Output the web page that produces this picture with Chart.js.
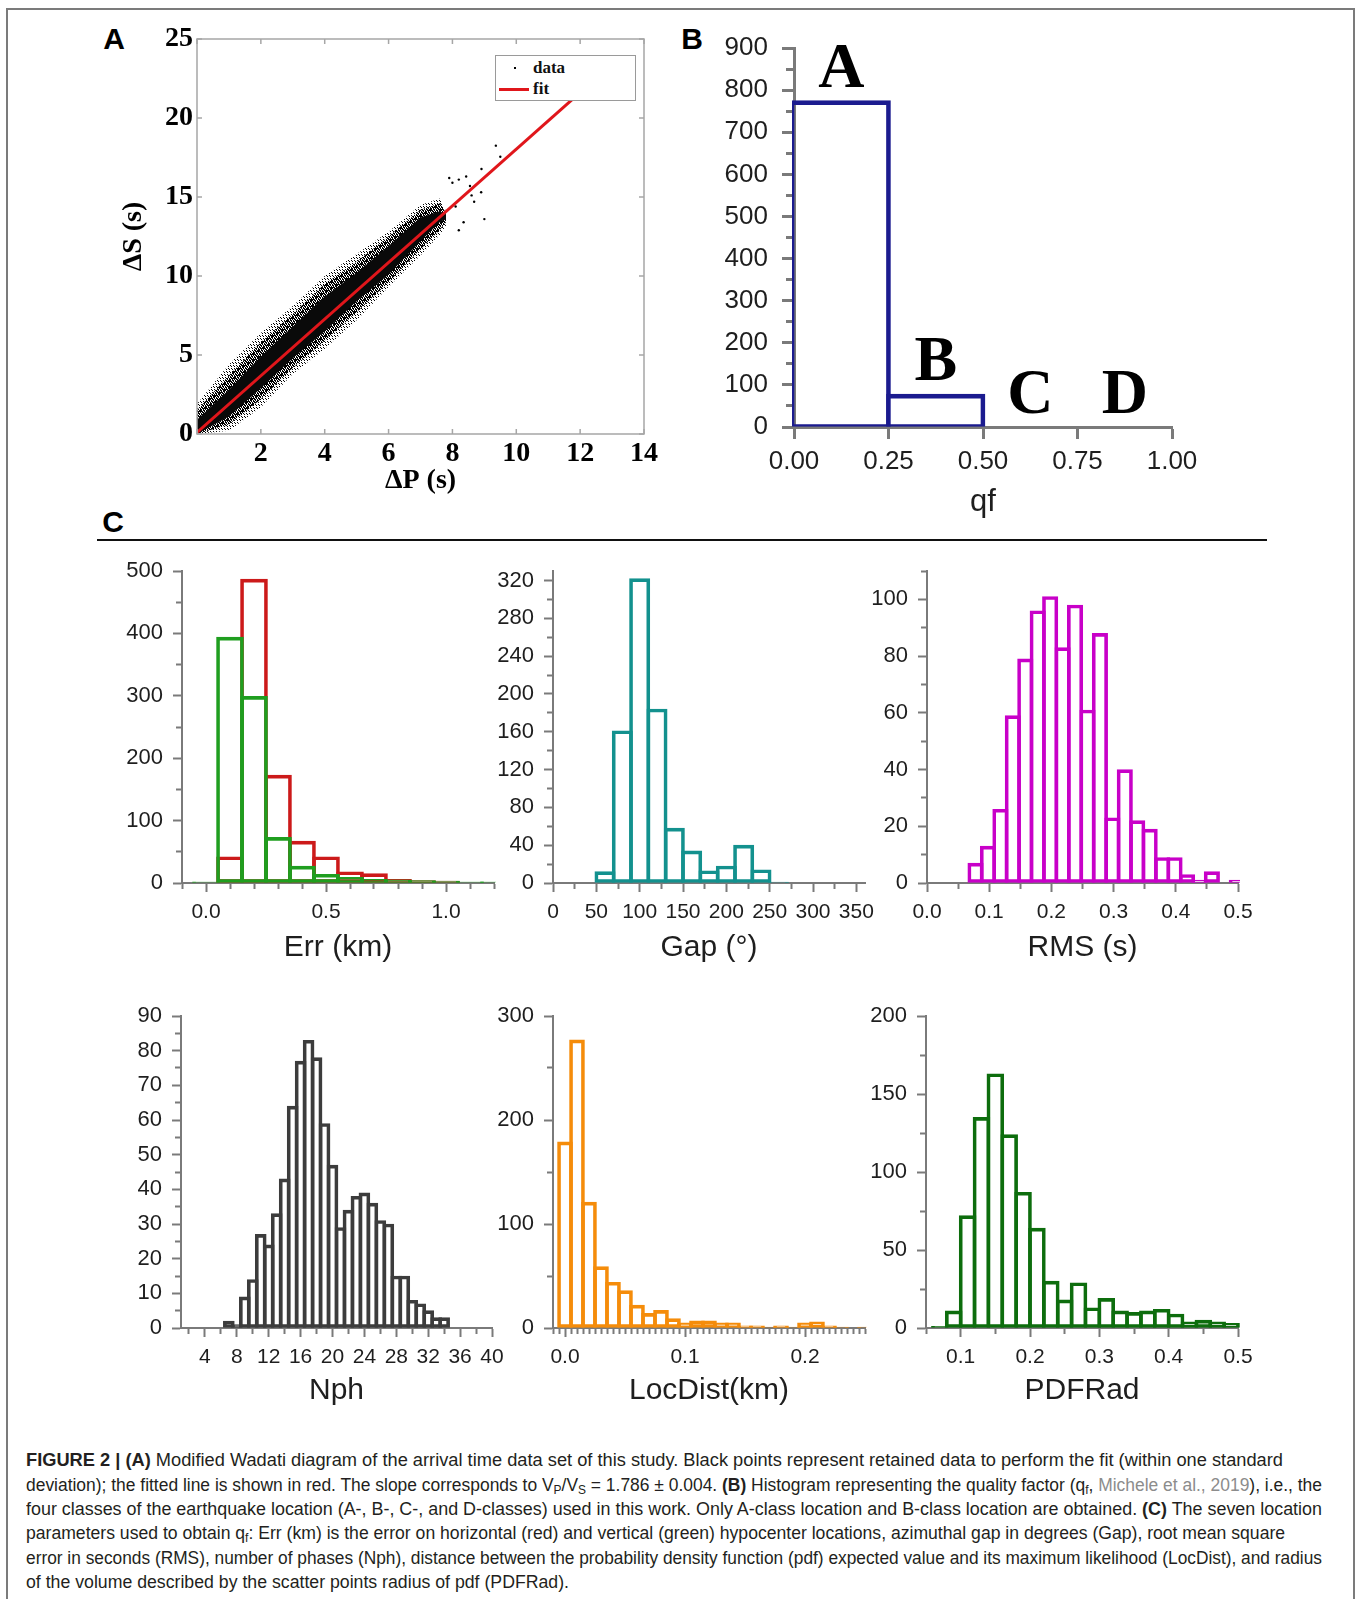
<!DOCTYPE html>
<html>
<head>
<meta charset="utf-8">
<script src="https://cdn.jsdelivr.net/npm/chart.js@4.4.1/dist/chart.umd.min.js"></script>
<style>
html, body { margin: 0; padding: 0; background: #fff; }
body { width: 1355px; height: 1599px; position: relative; overflow: hidden; font-family: "Liberation Sans", Arial, sans-serif; }
canvas { position: absolute; }
.frame { position: absolute; left: 6px; top: 8px; width: 1345px; height: 1640px; border: 2px solid #7b7b7b; }
.tag { position: absolute; font: bold 30px "Liberation Sans", Arial, sans-serif; color: #000; transform: translate(-50%, -50%); }
.rule { position: absolute; left: 97px; top: 539px; width: 1170px; height: 2px; background: #111; }
.legend { position: absolute; left: 495px; top: 55px; width: 139px; height: 44px; border: 1px solid #9a9a9a; background: #fff; font: bold 17px "Liberation Serif", "Times New Roman", serif; color: #111; }
.legend .dot { position: absolute; left: 18px; top: 11px; width: 2px; height: 2px; background: #000; }
.legend .line { position: absolute; left: 3px; top: 32px; width: 30px; height: 3px; background: #e0161b; }
.legend .txt { position: absolute; left: 37px; }
.cap { position: absolute; left: 26px; white-space: nowrap; font: 17.5px/20px "Liberation Sans Narrow", "Arial Narrow", "Liberation Sans", sans-serif; color: #231f20; transform-origin: 0 0; }
.cap sub { font-size: 12px; line-height: 0; vertical-align: -3px; }
.cap .ref { color: #8c8c8c; }
</style>
</head>
<body>
<div class="frame"></div>
<div class="tag" style="left:114px;top:39px">A</div>
<div class="tag" style="left:692px;top:39px">B</div>
<div class="tag" style="left:113px;top:522px">C</div>
<div class="rule"></div>

<canvas id="chartA"></canvas>
<canvas id="chartB"></canvas>
<canvas id="chartErr"></canvas>
<canvas id="chartGap"></canvas>
<canvas id="chartRms"></canvas>
<canvas id="chartNph"></canvas>
<canvas id="chartLoc"></canvas>
<canvas id="chartPdf"></canvas>

<div class="legend">
  <span class="dot"></span><span class="txt" style="top:2px">data</span>
  <span class="line"></span><span class="txt" style="top:23px">fit</span>
</div>

<div class="cap" style="top:1450px"><b>FIGURE 2 | (A)</b> Modified Wadati diagram of the arrival time data set of this study. Black points represent retained data to perform the fit (within one standard</div>
<div class="cap" style="top:1475px">deviation); the fitted line is shown in red. The slope corresponds to V<sub>P</sub>/V<sub>S</sub> = 1.786 ± 0.004. <b>(B)</b> Histogram representing the quality factor (q<sub>f</sub>, <span class="ref">Michele et al., 2019</span>), i.e., the</div>
<div class="cap" style="top:1499px">four classes of the earthquake location (A-, B-, C-, and D-classes) used in this work. Only A-class location and B-class location are obtained. <b>(C)</b> The seven location</div>
<div class="cap" style="top:1523px">parameters used to obtain q<sub>f</sub>: Err (km) is the error on horizontal (red) and vertical (green) hypocenter locations, azimuthal gap in degrees (Gap), root mean square</div>
<div class="cap" style="top:1548px">error in seconds (RMS), number of phases (Nph), distance between the probability density function (pdf) expected value and its maximum likelihood (LocDist), and radius</div>
<div class="cap" style="top:1572px">of the volume described by the scatter points radius of pdf (PDFRad).</div>

<script>
// (A) wadati diagram: envelopes of the point cloud
var cloudX = [0, 1, 2, 3, 4, 5, 6, 7, 7.6, 7.8];
var cloudOuterTop = [1.9, 4.4, 6.4, 8.1, 10.0, 11.4, 12.8, 14.5, 14.9, 14.1];
var cloudOuterBottom = [0, 0.2, 1.7, 3.8, 5.4, 7.2, 9.3, 11.3, 12.6, 13.2];
var cloudMidTop = [1.5, 3.7, 5.8, 7.6, 9.5, 10.9, 12.5, 14.2, 14.6, 14.0];
var cloudMidBottom = [0, 0.6, 2.2, 4.2, 5.9, 7.7, 9.6, 11.7, 12.9, 13.4];
var cloudCoreTop = [0.9, 2.8, 4.9, 6.8, 8.7, 10.2, 11.9, 13.7, 14.1, 13.9];
var cloudCoreBottom = [0, 1.1, 2.9, 4.8, 6.5, 8.4, 10.1, 12.2, 13.4, 13.6];
// stray points right of the cloud
var outlierX = [9.36, 9.5, 8.91, 9.0, 8.2, 8.43, 8.68, 8.2, 8.0, 8.9, 8.6, 8.35, 7.9, 8.1, 8.55];
var outlierY = [18.25, 17.55, 16.77, 13.6, 12.9, 16.3, 14.7, 16.1, 15.9, 15.3, 15.1, 13.4, 16.2, 14.4, 15.7];
var fitX = [0, 11.74];
var fitY = [0.1, 21.14];
var wadatiXTicks = [0, 2, 4, 6, 8, 10, 12, 14];
var wadatiYTicks = [0, 5, 10, 15, 20, 25];

// (B) quality factor
var qfClasses = ['A', 'B', 'C', 'D'];
var qfBins = [0.125, 0.375, 0.625, 0.875];
var qfCounts = [775, 78, 0, 0];
var qfXTicks = [0, 0.25, 0.5, 0.75, 1];
var qfYTicks = [0, 100, 200, 300, 400, 500, 600, 700, 800, 900];

// (C) location parameters
var errBins = [0, 0.1, 0.2, 0.3, 0.4, 0.5, 0.6, 0.7, 0.8, 0.9, 1.0, 1.1, 1.2];
var errHorizontal = [0, 42, 487, 173, 67, 42, 18, 15, 6, 4, 3, 0, 0];
var errVertical = [2, 394, 299, 73, 27, 14, 9, 6, 5, 4, 3, 2, 2];
var errXTicks = [0, 0.5, 1.0];
var errYTicks = [0, 100, 200, 300, 400, 500];

var gapBins = [60, 80, 100, 120, 140, 160, 180, 200, 220, 240, 260];
var gapCounts = [12, 161, 322, 184, 58, 34, 13, 18, 40, 14, 1];
var gapXTicks = [0, 50, 100, 150, 200, 250, 300, 350];
var gapYTicks = [0, 40, 80, 120, 160, 200, 240, 280, 320];

var rmsBins = [0.078, 0.098, 0.118, 0.138, 0.158, 0.178, 0.198, 0.218, 0.238, 0.258, 0.278,
               0.298, 0.318, 0.338, 0.358, 0.378, 0.398, 0.418, 0.438, 0.458, 0.478, 0.498];
var rmsCounts = [7, 13, 26, 59, 79, 96, 101, 83, 98, 61, 88, 23, 40, 22, 19, 9, 9, 3, 1, 4, 0, 1];
var rmsXTicks = [0, 0.1, 0.2, 0.3, 0.4, 0.5];
var rmsYTicks = [0, 20, 40, 60, 80, 100];

var nphBins = [7, 8, 9, 10, 11, 12, 13, 14, 15, 16, 17, 18, 19, 20, 21, 22, 23, 24, 25, 26, 27, 28, 29, 30, 31, 32, 33, 34];
var nphCounts = [2, 1, 9, 14, 27, 24, 33, 43, 64, 77, 83, 78, 59, 47, 29, 34, 38, 39, 36, 31, 30, 15, 15, 8, 7, 5, 3, 3];
var nphXTicks = [4, 8, 12, 16, 20, 24, 28, 32, 36, 40];
var nphYTicks = [0, 10, 20, 30, 40, 50, 60, 70, 80, 90];

var locBins = [0, 0.01, 0.02, 0.03, 0.04, 0.05, 0.06, 0.07, 0.08, 0.09, 0.10, 0.11, 0.12,
               0.13, 0.14, 0.15, 0.16, 0.17, 0.18, 0.19, 0.20, 0.21, 0.22, 0.23, 0.24, 0.25];
var locCounts = [179, 277, 121, 59, 44, 36, 22, 14, 17, 9, 5, 7, 7, 5, 5, 2, 2, 1, 2, 1, 5, 6, 2, 1, 0, 1];
var locXTicks = [0, 0.1, 0.2];
var locYTicks = [0, 100, 200, 300];

var pdfBins = [0.07, 0.09, 0.11, 0.13, 0.15, 0.17, 0.19, 0.21, 0.23, 0.25, 0.27,
               0.29, 0.31, 0.33, 0.35, 0.37, 0.39, 0.41, 0.43, 0.45, 0.47, 0.49];
var pdfCounts = [1, 11, 72, 135, 163, 124, 87, 64, 30, 18, 29, 13, 19, 11, 10, 11, 12, 9, 4, 5, 4, 3];
var pdfXTicks = [0.1, 0.2, 0.3, 0.4, 0.5];
var pdfYTicks = [0, 50, 100, 150, 200];

var GRAY = '#7a7a7a';
var INK = '#1e1e1e';
var SERIF = '"Liberation Serif", "Times New Roman", serif';

Chart.defaults.font.family = '"Liberation Sans", Arial, sans-serif';
Chart.defaults.color = INK;
Chart.defaults.animation = false;
Chart.defaults.events = [];
Chart.defaults.plugins.legend.display = false;
Chart.defaults.plugins.tooltip.enabled = false;

function pairs(xs, ys) {
    return xs.map(function (x, i) { return { x: x, y: ys[i] }; });
}

function isMajor(v, majors) {
    return majors.some(function (m) { return Math.abs(m - v) < 1e-6; });
}

function tickList(min, max, step) {
    var out = [];
    for (var k = Math.ceil(min / step - 1e-9); k * step <= max + step * 1e-6; k++) {
        out.push({ value: parseFloat((k * step).toFixed(6)) });
    }
    return out;
}

// canvas sized so the plot area lands on box = [left, top, right, bottom]
function place(id, box, pad) {
    var c = document.getElementById(id);
    c.width = Math.round(box[2] - box[0] + pad[0] + pad[2]);
    c.height = Math.round(box[3] - box[1] + pad[1] + pad[3]);
    c.style.left = (box[0] - pad[0]) + 'px';
    c.style.top = (box[1] - pad[1]) + 'px';
    return c;
}

function axis(o) {
    var bottom = o.side === 'bottom';
    var minor = Math.round(o.tick * 0.55);
    return {
        type: 'linear', position: o.side, min: o.min, max: o.max, offset: false,
        afterBuildTicks: function (a) { a.ticks = tickList(o.min, o.max, o.step); },
        afterFit: function (a) { if (bottom) a.height = o.size; else a.width = o.size; },
        ticks: {
            autoSkip: false, maxRotation: 0, padding: o.pad, color: INK, font: { size: o.font },
            callback: function (v) { return isMajor(v, o.majors) ? v.toFixed(o.digits) : ''; }
        },
        grid: {
            offset: false, drawOnChartArea: false, drawTicks: true,
            tickLength: o.tick, tickWidth: o.line, tickColor: GRAY,
            tickBorderDash: function (c) {
                if (!c.tick || isMajor(c.tick.value, o.majors)) return [];
                return bottom ? [minor, 200] : [0, o.tick - minor - 1, 200];
            }
        },
        border: { display: true, color: GRAY, width: o.line },
        title: { display: !!o.title, text: o.title || '', color: INK, font: { size: o.titleSize || 30 }, padding: 0 }
    };
}

function bars(bins, counts, color, lw, order) {
    return {
        data: pairs(bins, counts),
        backgroundColor: 'rgba(0,0,0,0)',
        borderColor: color,
        borderWidth: lw,
        borderSkipped: false,
        grouped: false,
        order: order || 0,
        clip: 2
    };
}

// make neighbouring bars overlap by one line width so shared edges stay single
function fitBins(chart, step, lw) {
    var xs = chart.scales.x;
    var w = Math.abs(xs.getPixelForValue(step) - xs.getPixelForValue(0)) + lw;
    chart.data.datasets.forEach(function (ds) { ds.barThickness = w; });
    chart.update('none');
}

function histogram(id, box, pad, xAxis, yAxis, datasets, step, lw, plugins) {
    var chart = new Chart(place(id, box, pad), {
        type: 'bar',
        data: { datasets: datasets },
        options: {
            responsive: false,
            layout: { padding: { left: 0, top: pad[1], right: pad[2], bottom: 0 } },
            scales: { x: xAxis, y: yAxis }
        },
        plugins: plugins || []
    });
    fitBins(chart, step, lw);
    return chart;
}

// dot texture for the looser parts of the cloud
function speckle(size, keep) {
    var t = document.createElement('canvas');
    t.width = size; t.height = size;
    var g = t.getContext('2d');
    g.fillStyle = '#000';
    for (var i = 0; i < size; i++) {
        for (var j = 0; j < size; j++) {
            if ((i * 3 + j * 5) % size < keep) g.fillRect(i, j, 1, 1);
        }
    }
    return g.createPattern(t, 'repeat');
}

// ---------- A ----------
var frameA = {
    id: 'frameA',
    afterDraw: function (chart) {
        var a = chart.chartArea, g = chart.ctx, xs = chart.scales.x, ys = chart.scales.y;
        g.save();
        g.strokeStyle = '#a6a6a6';
        g.lineWidth = 1.5;
        g.strokeRect(a.left, a.top, a.right - a.left, a.bottom - a.top);
        g.beginPath();
        xs.ticks.forEach(function (t) {
            var px = xs.getPixelForValue(t.value);
            g.moveTo(px, a.bottom); g.lineTo(px, a.bottom - 5);
            g.moveTo(px, a.top); g.lineTo(px, a.top + 5);
        });
        ys.ticks.forEach(function (t) {
            var py = ys.getPixelForValue(t.value);
            g.moveTo(a.left, py); g.lineTo(a.left + 5, py);
            g.moveTo(a.right, py); g.lineTo(a.right - 5, py);
        });
        g.stroke();
        g.restore();
    }
};

var serifBold = { family: SERIF, size: 28, weight: 'bold' };
var band = { borderWidth: 0, borderColor: 'rgba(0,0,0,0)', pointRadius: 0 };

new Chart(place('chartA', [197, 39, 643.5, 434], [80, 24, 22, 64]), {
    type: 'line',
    data: {
        datasets: [
            { data: pairs(fitX, fitY), borderColor: '#e0161b', borderWidth: 3, pointRadius: 0, fill: false },
            { data: pairs(outlierX, outlierY), showLine: false, pointRadius: 1.2, pointBackgroundColor: '#000', pointBorderWidth: 0 },
            Object.assign({ data: pairs(cloudX, cloudCoreTop), fill: '+1', backgroundColor: '#0a0a0a' }, band),
            Object.assign({ data: pairs(cloudX, cloudCoreBottom), fill: false }, band),
            Object.assign({ data: pairs(cloudX, cloudMidTop), fill: '+1', backgroundColor: speckle(7, 4) }, band),
            Object.assign({ data: pairs(cloudX, cloudMidBottom), fill: false }, band),
            Object.assign({ data: pairs(cloudX, cloudOuterTop), fill: '+1', backgroundColor: speckle(9, 2) }, band),
            Object.assign({ data: pairs(cloudX, cloudOuterBottom), fill: false }, band)
        ]
    },
    options: {
        responsive: false,
        layout: { padding: { left: 0, top: 24, right: 22, bottom: 0 } },
        scales: {
            x: {
                type: 'linear', min: 0, max: 14,
                afterBuildTicks: function (a) { a.ticks = wadatiXTicks.map(function (v) { return { value: v }; }); },
                afterFit: function (a) { a.height = 64; },
                grid: { display: false, drawTicks: false },
                border: { display: false },
                ticks: { autoSkip: false, maxRotation: 0, padding: 3, color: '#000', font: serifBold,
                         callback: function (v) { return v === 0 ? '' : v; } },
                title: { display: true, text: 'ΔP (s)', color: '#000', font: serifBold, padding: 0 }
            },
            y: {
                type: 'linear', min: 0, max: 25,
                afterBuildTicks: function (a) { a.ticks = wadatiYTicks.map(function (v) { return { value: v }; }); },
                afterFit: function (a) { a.width = 80; },
                grid: { display: false, drawTicks: false },
                border: { display: false },
                ticks: { autoSkip: false, padding: 4, color: '#000', font: serifBold },
                title: { display: true, text: 'ΔS (s)', color: '#000', font: serifBold, padding: 0 }
            }
        }
    },
    plugins: [frameA]
});

// ---------- B ----------
var classLabels = {
    id: 'classLabels',
    afterDatasetsDraw: function (chart) {
        var xs = chart.scales.x, ys = chart.scales.y, g = chart.ctx;
        g.save();
        g.font = 'bold 64px ' + SERIF;
        g.fillStyle = '#000';
        g.textAlign = 'center';
        g.textBaseline = 'alphabetic';
        qfClasses.forEach(function (c, i) {
            g.fillText(c, xs.getPixelForValue(qfBins[i]), ys.getPixelForValue(qfCounts[i]) - 14);
        });
        g.restore();
    }
};

var qfBars = bars(qfBins, qfCounts, '#1b1b8f', { left: 2, top: 4, right: 4, bottom: 2 });
histogram('chartB', [794, 48, 1172, 427], [70, 36, 42, 94],
    axis({ side: 'bottom', min: 0, max: 1, majors: qfXTicks, step: 0.25, digits: 2, tick: 12, pad: 7, size: 94, font: 26, line: 3, title: 'qf', titleSize: 31 }),
    axis({ side: 'left', min: 0, max: 900, majors: qfYTicks, step: 50, digits: 0, tick: 12, pad: 14, size: 70, font: 26, line: 3 }),
    [qfBars], 0.25, 4, [classLabels]);

// ---------- C, top row ----------
var topPad = [60, 30, 34, 83];
var lowPad = [60, 30, 34, 81];

histogram('chartErr', [182, 571, 494, 883], topPad,
    axis({ side: 'bottom', min: -0.1, max: 1.2, majors: errXTicks, step: 0.1, digits: 1, tick: 9, pad: 8, size: 83, font: 21, line: 2, title: 'Err (km)' }),
    axis({ side: 'left', min: 0, max: 500, majors: errYTicks, step: 50, digits: 0, tick: 9, pad: 10, size: 60, font: 22, line: 2 }),
    [bars(errBins, errVertical, '#1f9e1f', 3, 0), bars(errBins, errHorizontal, '#cc1a1a', 3, 1)], 0.1, 3);

histogram('chartGap', [553, 571, 865, 883], topPad,
    axis({ side: 'bottom', min: 0, max: 360, majors: gapXTicks, step: 25, digits: 0, tick: 9, pad: 8, size: 83, font: 21, line: 2, title: 'Gap (°)' }),
    axis({ side: 'left', min: 0, max: 330, majors: gapYTicks, step: 20, digits: 0, tick: 9, pad: 10, size: 60, font: 22, line: 2 }),
    [bars(gapBins, gapCounts, '#13918e', 3)], 20, 3);

histogram('chartRms', [927, 571, 1238, 883], topPad,
    axis({ side: 'bottom', min: 0, max: 0.5, majors: rmsXTicks, step: 0.05, digits: 1, tick: 9, pad: 8, size: 83, font: 21, line: 2, title: 'RMS (s)' }),
    axis({ side: 'left', min: 0, max: 110, majors: rmsYTicks, step: 10, digits: 0, tick: 9, pad: 10, size: 60, font: 22, line: 2 }),
    [bars(rmsBins, rmsCounts, '#c800c8', 3)], 0.02, 3);

// ---------- C, bottom row ----------
histogram('chartNph', [181, 1016, 492, 1328], lowPad,
    axis({ side: 'bottom', min: 1, max: 40, majors: nphXTicks, step: 2, digits: 0, tick: 9, pad: 8, size: 81, font: 21, line: 2, title: 'Nph' }),
    axis({ side: 'left', min: 0, max: 90, majors: nphYTicks, step: 5, digits: 0, tick: 9, pad: 10, size: 60, font: 22, line: 2 }),
    [bars(nphBins, nphCounts, '#3c3c3c', 3)], 1, 3);

histogram('chartLoc', [553, 1016, 865, 1328], lowPad,
    axis({ side: 'bottom', min: -0.01, max: 0.25, majors: locXTicks, step: 0.005, digits: 1, tick: 9, pad: 8, size: 81, font: 21, line: 2, title: 'LocDist(km)' }),
    axis({ side: 'left', min: 0, max: 300, majors: locYTicks, step: 50, digits: 0, tick: 9, pad: 10, size: 60, font: 22, line: 2 }),
    [bars(locBins, locCounts, '#f58c0a', 3)], 0.01, 3);

histogram('chartPdf', [926, 1016, 1238, 1328], lowPad,
    axis({ side: 'bottom', min: 0.05, max: 0.5, majors: pdfXTicks, step: 0.05, digits: 1, tick: 9, pad: 8, size: 81, font: 21, line: 2, title: 'PDFRad' }),
    axis({ side: 'left', min: 0, max: 200, majors: pdfYTicks, step: 25, digits: 0, tick: 9, pad: 10, size: 60, font: 22, line: 2 }),
    [bars(pdfBins, pdfCounts, '#0d6d0d', 3)], 0.02, 3);

// caption lines stretched to the widths of the printed lines
var capEnds = [1283, 1322, 1322, 1285, 1322, 569];
document.querySelectorAll('.cap').forEach(function (el, i) {
    var w = el.getBoundingClientRect().width;
    el.style.transform = 'scaleX(' + ((capEnds[i] - 26) / w).toFixed(4) + ')';
});
</script>
</body>
</html>
